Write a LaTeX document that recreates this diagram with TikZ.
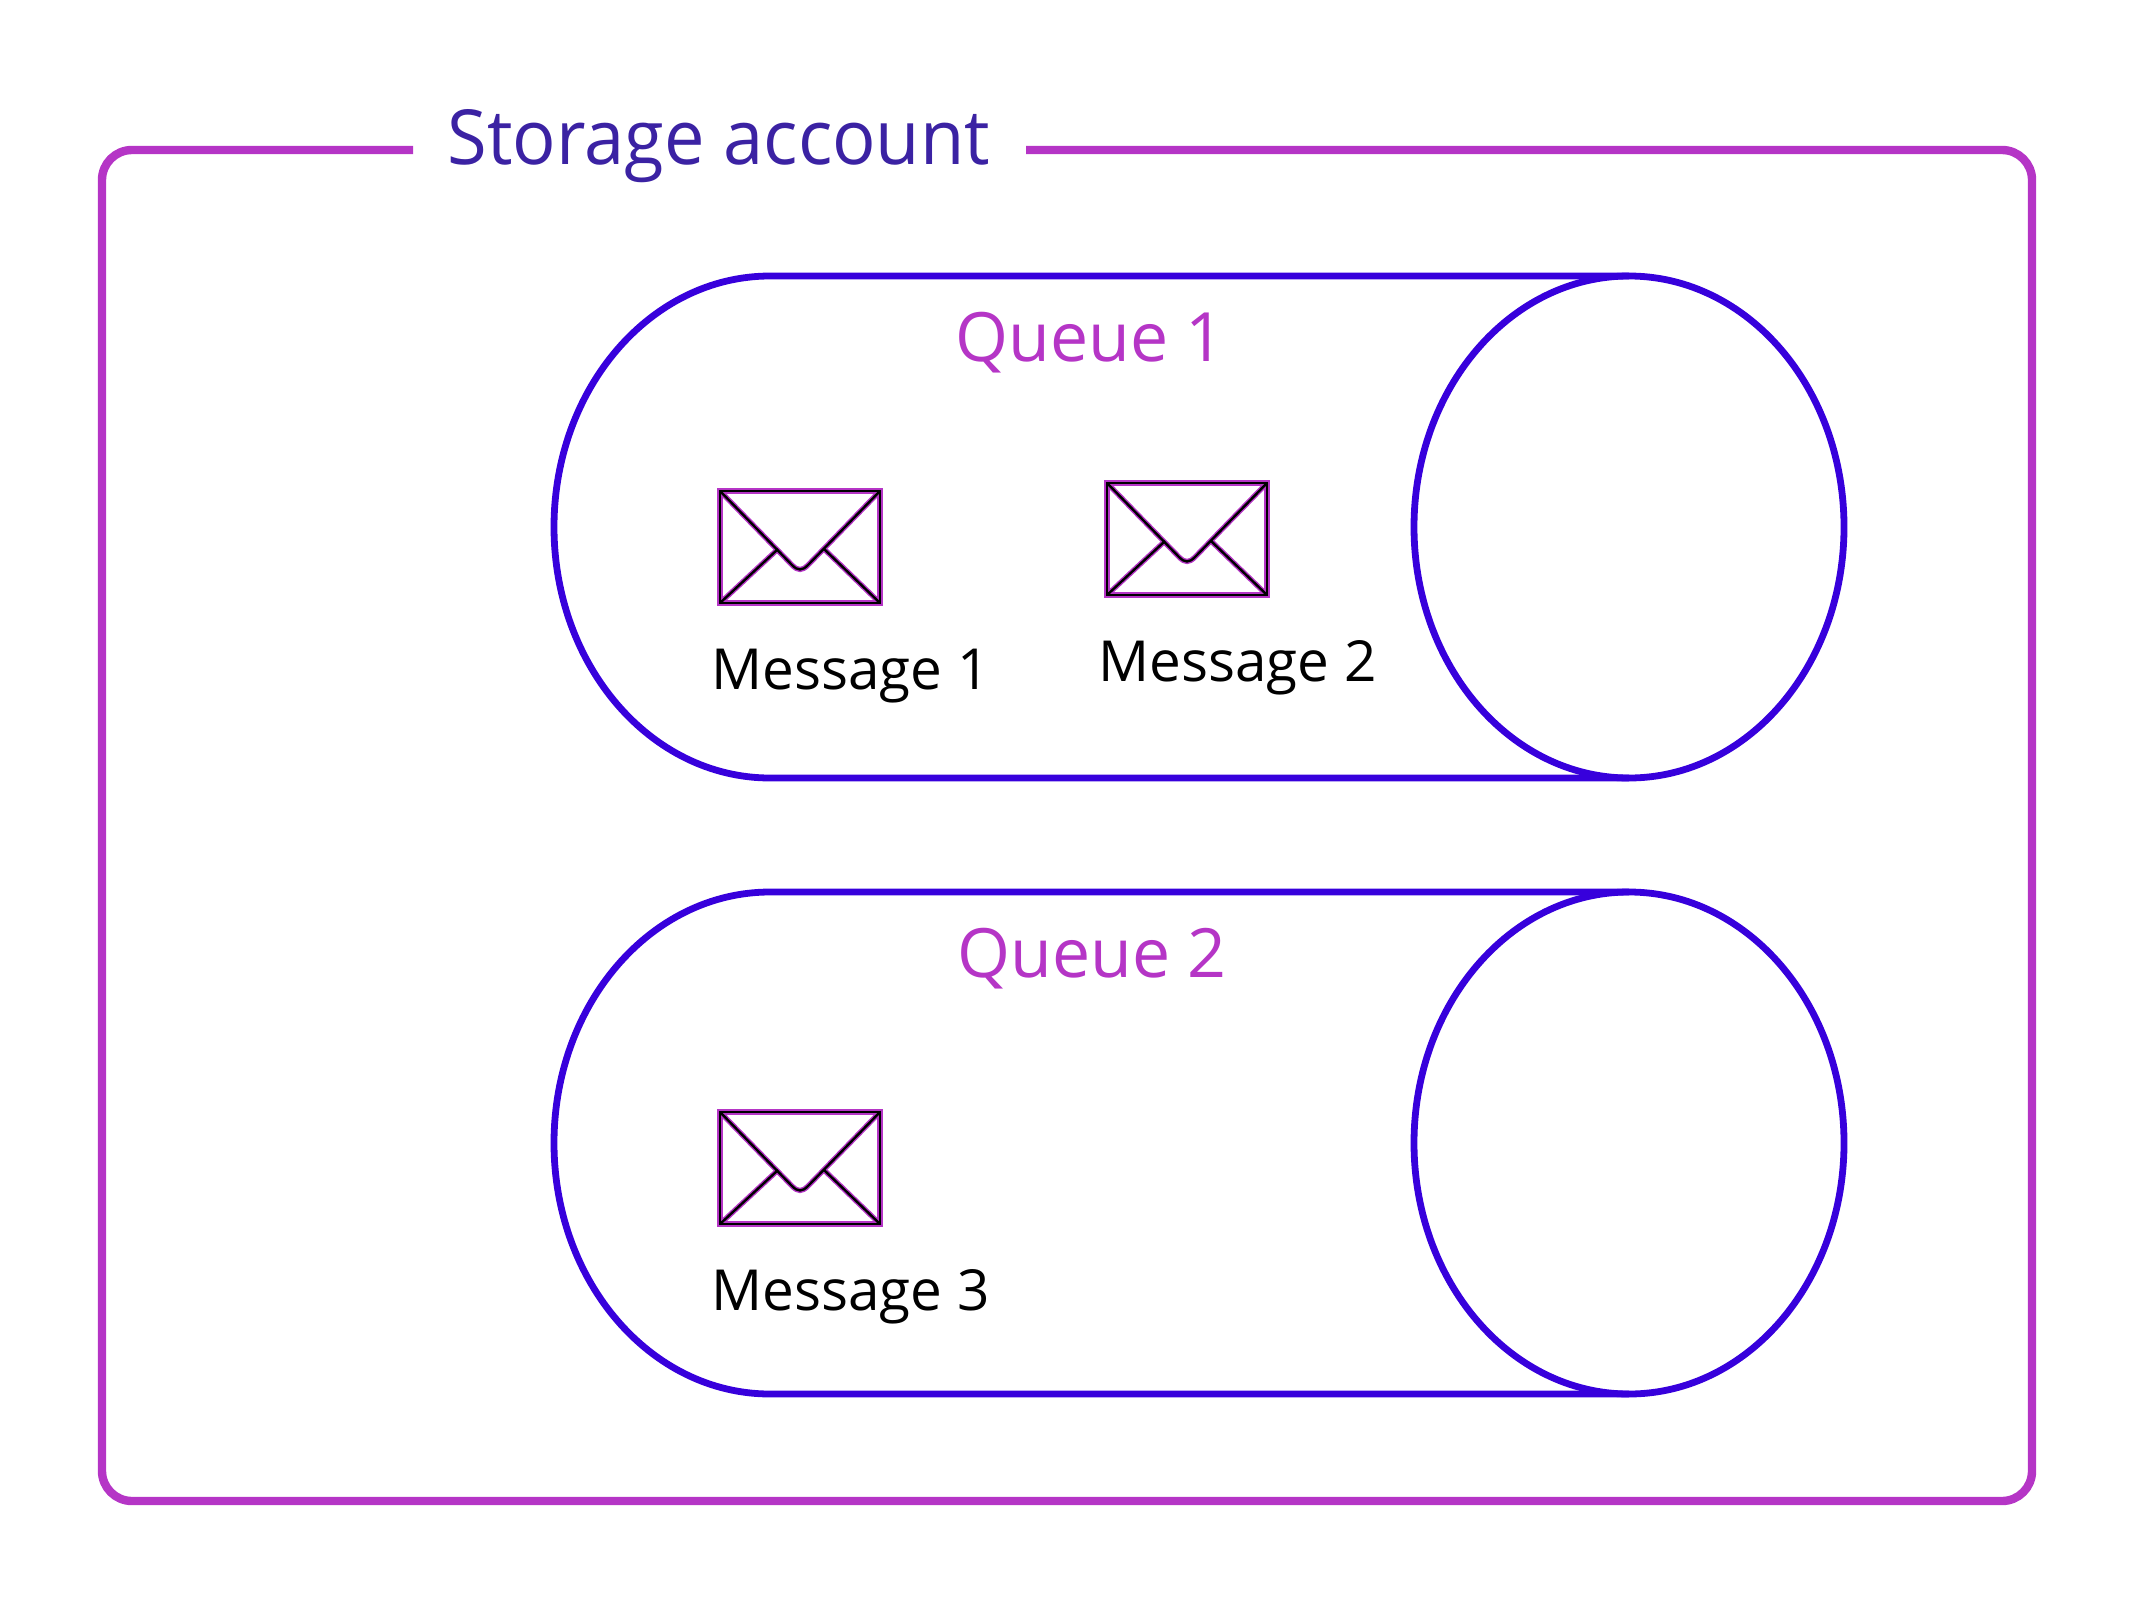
\documentclass[tikz,border=0pt]{standalone}
\usepackage{fontspec}
\setmainfont{Open Sans}
\newfontfamily\titlefont[FakeStretch=0.95]{Open Sans}
\usetikzlibrary{positioning}
\definecolor{framepurple}{HTML}{B535C6}
\definecolor{titleblue}{HTML}{3B22A3}
\definecolor{queueblue}{HTML}{3700DC}
\tikzset{
  frameline/.style={draw=framepurple, line width=4.2pt, rounded corners=15pt},
  queueline/.style={draw=queueblue, line width=3.4pt},
  titletext/.style={font=\titlefont\fontsize{38}{44}\selectfont, color=titleblue, anchor=base, inner sep=0pt},
  queuetext/.style={font=\fontsize{34}{40}\selectfont, color=framepurple, anchor=base, inner sep=0pt},
  msgtext/.style={font=\fontsize{28.3}{34}\selectfont, color=black, anchor=base west, inner sep=0pt},
  envelope/.pic={
    \foreach \envcolor/\envwidth in {framepurple/2.6pt, black/1.2pt}{
      \draw[\envcolor, line width=\envwidth] (0,0) rectangle (160,112);
      \draw[\envcolor, line width=\envwidth, line join=round] (0,0) -- (72,74) .. controls (78,80) and (82,80) .. (88,74) -- (160,0);
      \draw[\envcolor, line width=\envwidth] (0,112) -- (58,58);
      \draw[\envcolor, line width=\envwidth] (160,112) -- (104,58);
    }
  },
  queuepipe/.pic={
    \draw[queueline] (1629,0) -- (770,0) arc[start angle=90, end angle=270, x radius=216, y radius=-251] -- (1629,502);
    \draw[queueline] (1629,251) ellipse[x radius=215, y radius=251];
  }
}
\begin{document}
\begin{tikzpicture}[x=0.5pt,y=-0.5pt]
\useasboundingbox (0,0) rectangle (2129,1600);
%
\draw[frameline] (413,150) -- (102,150) -- (102,1501) -- (2032,1501) -- (2032,150) -- (1026,150);
\node[titletext] (title) at (719,164) {Storage account};
%
\pic at (0,276) {queuepipe};
\node[queuetext] (queue1) at (1090,361) {Queue 1};
\pic at (720,491) {envelope};
\node[msgtext] (msg1) at (711,689) {Message 1};
\pic at (1107,483) {envelope};
\node[msgtext] (msg2) at (1098,681) {Message 2};
%
\pic at (0,892) {queuepipe};
\node[queuetext] (queue2) at (1092,977) {Queue 2};
\pic at (720,1112) {envelope};
\node[msgtext] (msg3) at (711,1310) {Message 3};
\end{tikzpicture}
\end{document}
